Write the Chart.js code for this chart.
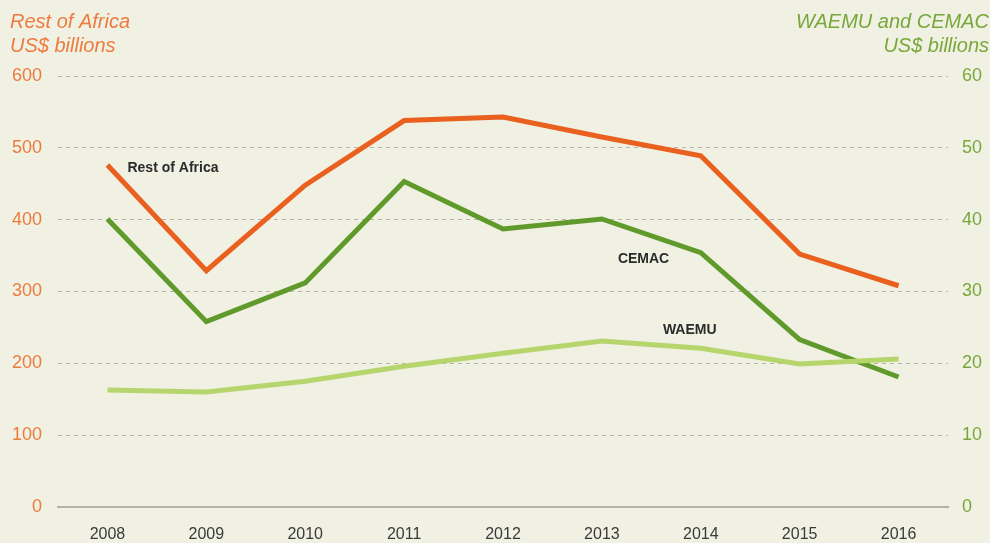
<!DOCTYPE html>
<html>
<head>
<meta charset="utf-8">
<script src="https://cdn.jsdelivr.net/npm/chart.js@4/dist/chart.umd.min.js"></script>
<style>
    html, body { margin: 0; padding: 0; background: #f0f0e3; }
    #wrap { width: 990px; height: 543px; position: relative; }
</style>
</head>
<body>
<div id="wrap"><canvas id="chart"></canvas></div>
<script>
const years = ['2008', '2009', '2010', '2011', '2012', '2013', '2014', '2015', '2016'];
// left axis, US$ billions
const restOfAfrica = [476, 329, 448, 538, 543, 515, 489, 352, 308];
// right axis, US$ billions
const cemac = [40.1, 25.8, 31.2, 45.3, 38.7, 40.1, 35.4, 23.3, 18.1];
const waemu = [16.3, 16.0, 17.5, 19.6, 21.4, 23.1, 22.1, 19.9, 20.6];

const ORANGE = '#e9601f';
const DARK_GREEN = '#5f9a2b';
const LIGHT_GREEN = '#b6d66d';
const FONT = '"Liberation Sans", Arial, sans-serif';

// Axis titles and line labels
const annotations = {
    id: 'annotations',
    afterDraw(chart) {
        const ctx = chart.ctx;
        const x = chart.scales.x;
        const y = chart.scales.y;
        const y1 = chart.scales.y1;
        ctx.save();
        ctx.textBaseline = 'middle';

        ctx.font = 'italic 20px ' + FONT;
        ctx.fillStyle = '#ee7b3e';
        ctx.textAlign = 'left';
        ctx.fillText('Rest of Africa', 10, 22);
        ctx.fillText('US$ billions', 10, 46);

        ctx.fillStyle = '#78a83a';
        ctx.textAlign = 'right';
        ctx.fillText('WAEMU and CEMAC', 989, 22);
        ctx.fillText('US$ billions', 989, 46);

        ctx.font = 'bold 14px ' + FONT;
        ctx.fillStyle = '#2b2b2b';
        ctx.textAlign = 'left';
        ctx.fillText('Rest of Africa', x.getPixelForValue(0) + 20, y.getPixelForValue(476) + 3);
        ctx.fillText('CEMAC', x.getPixelForValue(5) + 16, y1.getPixelForValue(35) + 4);
        ctx.fillText('WAEMU', x.getPixelForValue(5) + 61, y1.getPixelForValue(25) + 3);
        ctx.restore();
    }
};

new Chart(document.getElementById('chart'), {
    type: 'line',
    data: {
        labels: years,
        datasets: [
            { label: 'WAEMU', data: waemu, yAxisID: 'y1', borderColor: LIGHT_GREEN },
            { label: 'CEMAC', data: cemac, yAxisID: 'y1', borderColor: DARK_GREEN },
            { label: 'Rest of Africa', data: restOfAfrica, yAxisID: 'y', borderColor: ORANGE }
        ]
    },
    options: {
        responsive: true,
        maintainAspectRatio: false,
        animation: false,
        layout: { padding: { top: 76, bottom: 0, left: 0, right: 0 } },
        elements: {
            line: { borderWidth: 5, tension: 0, borderCapStyle: 'butt', borderJoinStyle: 'miter' },
            point: { radius: 0 }
        },
        plugins: {
            legend: { display: false },
            tooltip: { enabled: false }
        },
        scales: {
            x: {
                offset: true,
                grid: { display: false },
                border: { display: true, color: '#b2b2aa', width: 2 },
                ticks: { color: '#3a3a3a', font: { family: FONT, size: 16 }, padding: 10 },
                afterFit: (s) => { s.height = 36; }
            },
            y: {
                position: 'left',
                min: 0, max: 600,
                ticks: { stepSize: 100, color: '#ee7b3e', font: { family: FONT, size: 18 }, padding: 16 },
                grid: { color: '#b5b5ad', lineWidth: 1, drawTicks: false },
                border: { display: false, dash: [4, 4] },
                afterFit: (s) => { s.width = 58; }
            },
            y1: {
                position: 'right',
                min: 0, max: 60,
                ticks: { stepSize: 10, color: '#78a83a', font: { family: FONT, size: 18 }, padding: 14 },
                grid: { drawOnChartArea: false, drawTicks: false },
                border: { display: false },
                afterFit: (s) => { s.width = 42; }
            }
        }
    },
    plugins: [annotations]
});
</script>
</body>
</html>
